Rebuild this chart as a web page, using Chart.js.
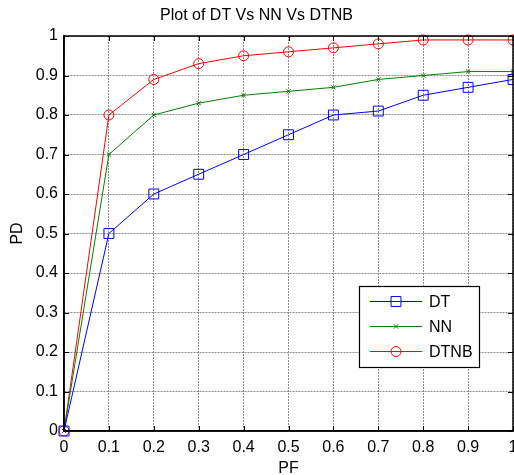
<!DOCTYPE html>
<html>
<head>
<meta charset="utf-8">
<script src="https://cdn.jsdelivr.net/npm/chart.js@4.4.1/dist/chart.umd.min.js"></script>
<style>
html,body{margin:0;padding:0;background:#fff;}
#wrap{width:514px;height:475px;}
</style>
</head>
<body>
<div id="wrap"><canvas id="c" width="514" height="475"></canvas></div>
<script>
const pf = [0, 0.1, 0.2, 0.3, 0.4, 0.5, 0.6, 0.7, 0.8, 0.9, 1];
const dt = [0, 0.50, 0.60, 0.65, 0.70, 0.75, 0.80, 0.81, 0.85, 0.87, 0.89];
const nn = [0, 0.70, 0.80, 0.83, 0.85, 0.86, 0.87, 0.89, 0.90, 0.91, 0.91];
const dtnb = [0, 0.80, 0.89, 0.93, 0.95, 0.96, 0.97, 0.98, 0.99, 0.99, 0.99];
const seriesNames = ['DT', 'NN', 'DTNB'];
const titleText = 'Plot of DT Vs NN Vs DTNB';

const FONT = "'Liberation Sans', Arial, sans-serif";
const FS = 16;
const pts = arr => arr.map((v, i) => ({x: pf[i], y: v}));

const styles = [
  {color: '#0000ff', pointStyle: 'rect', radius: 7},
  {color: '#008000', pointStyle: 'crossRot', radius: 3},
  {color: '#ff0000', pointStyle: 'circle', radius: 5}
];
const seriesData = [dt, nn, dtnb];
const zeroPad = () => ({left: 0, top: 0, right: 0, bottom: 0});

const boxPlugin = {
  id: 'boxLegend',
  afterDatasetsDraw(chart) {
    const ctx = chart.ctx, a = chart.chartArea;
    const xs = chart.scales.x, ys = chart.scales.y;
    ctx.save();
    // inward tick marks
    ctx.strokeStyle = '#000';
    ctx.lineWidth = 1;
    ctx.beginPath();
    pf.forEach(v => {
      const px = Math.round(xs.getPixelForValue(v)) + 0.5;
      ctx.moveTo(px, a.bottom); ctx.lineTo(px, a.bottom - 5);
      ctx.moveTo(px, a.top); ctx.lineTo(px, a.top + 5);
      const py = Math.round(ys.getPixelForValue(v)) + 0.5;
      ctx.moveTo(a.left, py); ctx.lineTo(a.left + 5, py);
      ctx.moveTo(a.right, py); ctx.lineTo(a.right - 5, py);
    });
    ctx.stroke();
    ctx.lineWidth = 1.5;
    ctx.strokeRect(a.left, a.top, a.right - a.left, a.bottom - a.top);
    // legend
    const lx = a.right - 154, ly = a.top + 250, lw = 120, lh = 81;
    ctx.fillStyle = '#fff';
    ctx.fillRect(lx, ly, lw, lh);
    ctx.lineWidth = 1.2;
    ctx.strokeStyle = '#000';
    ctx.strokeRect(lx + 0.5, ly + 0.5, lw, lh);
    ctx.font = FS + 'px ' + FONT;
    ctx.textBaseline = 'middle';
    ctx.textAlign = 'left';
    seriesNames.forEach((name, i) => {
      const s = styles[i];
      const y = ly + 15.5 + i * 25;
      ctx.strokeStyle = s.color;
      ctx.lineWidth = 1;
      ctx.beginPath();
      ctx.moveTo(lx + 11, y);
      ctx.lineTo(lx + 63, y);
      ctx.stroke();
      ctx.fillStyle = 'rgba(0,0,0,0)';
      Chart.helpers.drawPoint(ctx, {pointStyle: s.pointStyle, radius: s.radius, borderWidth: 1, rotation: 0}, lx + 37, y);
      ctx.fillStyle = '#000';
      ctx.fillText(name, lx + 70, y + 1);
    });
    ctx.restore();
  }
};

new Chart(document.getElementById('c'), {
  type: 'line',
  data: {
    datasets: seriesNames.map((name, i) => ({
      label: name,
      data: pts(seriesData[i]),
      borderColor: styles[i].color,
      backgroundColor: 'rgba(0,0,0,0)',
      pointBorderColor: styles[i].color,
      pointBackgroundColor: 'rgba(0,0,0,0)',
      pointStyle: styles[i].pointStyle,
      pointRadius: styles[i].radius,
      pointBorderWidth: 1,
      borderWidth: 1,
      tension: 0,
      clip: false
    }))
  },
  options: {
    responsive: false,
    animation: false,
    layout: {autoPadding: false, padding: {left: 0, right: 1, top: 0, bottom: 0}},
    plugins: {
      legend: {display: false},
      tooltip: {enabled: false},
      title: {
        display: true,
        text: titleText,
        color: '#000',
        font: {family: FONT, size: FS, weight: 'normal'},
        padding: {top: 6, bottom: 10.8}
      }
    },
    scales: {
      x: {
        type: 'linear',
        min: 0, max: 1,
        afterFit(s) { s.height = 44; s.paddingRight = 0; s.paddingLeft = 0; s.getPadding = zeroPad; },
        afterBuildTicks(s) { s.ticks = pf.map(v => ({value: v})); },
        ticks: {
          color: '#000', padding: 7,
          font: {family: FONT, size: FS},
          maxRotation: 0, autoSkip: false,
          callback: v => String(Math.round(v * 10) / 10)
        },
        grid: {color: '#8c8c8c', lineWidth: 1, drawTicks: false},
        border: {display: true, color: '#000', width: 1.5, dash: [2, 1]},
        title: {display: true, text: 'PF', color: '#000', font: {family: FONT, size: FS}, padding: {top: 0, bottom: -3.2}}
      },
      y: {
        type: 'linear',
        min: 0, max: 1,
        afterFit(s) { s.width = 64; s.paddingTop = 0; s.paddingBottom = 0; s.getPadding = zeroPad; },
        afterBuildTicks(s) { s.ticks = pf.map(v => ({value: v})); },
        ticks: {
          color: '#000', padding: 6,
          font: {family: FONT, size: FS},
          autoSkip: false,
          callback: v => String(Math.round(v * 10) / 10)
        },
        grid: {color: '#8c8c8c', lineWidth: 1, drawTicks: false},
        border: {display: true, color: '#000', width: 1.5, dash: [2, 1]},
        title: {display: true, text: 'PD', color: '#000', font: {family: FONT, size: FS}, padding: {top: 8.4, bottom: 0}}
      }
    }
  },
  plugins: [boxPlugin]
});
</script>
</body>
</html>
